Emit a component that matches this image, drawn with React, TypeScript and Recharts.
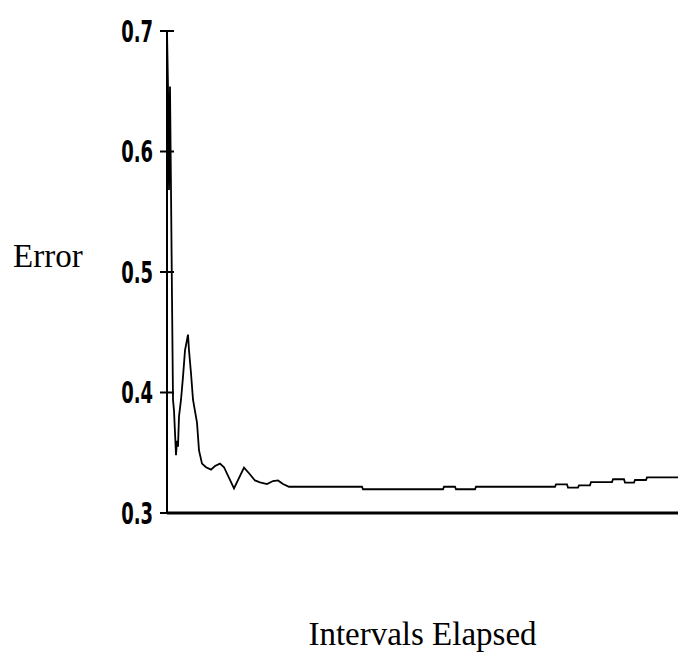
import { LineChart, Line, XAxis, YAxis, Label } from "recharts"

// interval index (roughly one per pixel column) and error at that interval
const intervals = [
  0, 1, 2, 3, 4, 5, 6, 7, 9, 10, 11, 12, 14, 16, 18, 21, 22, 24, 26, 30,
  32, 35, 39, 44, 48, 53, 57, 67, 77, 82, 88, 93, 100, 106, 111, 116, 122,
  195, 196, 276, 277, 288, 289, 308, 309, 388, 389, 400, 401, 411, 412,
  423, 424, 445, 446, 457, 458, 467, 468, 479, 480, 511,
]
const errors = [
  0.7, 0.654, 0.568, 0.654, 0.568, 0.479, 0.394, 0.385, 0.348, 0.36, 0.355,
  0.38, 0.394, 0.413, 0.435, 0.448, 0.435, 0.416, 0.394, 0.375, 0.352, 0.341,
  0.338, 0.336, 0.339, 0.341, 0.338, 0.3205, 0.3376, 0.333, 0.327, 0.3255,
  0.324, 0.3265, 0.327, 0.324, 0.3218, 0.3218, 0.3197, 0.3197, 0.3218,
  0.3218, 0.3197, 0.3197, 0.3218, 0.3218, 0.3238, 0.3238, 0.321, 0.321,
  0.323, 0.323, 0.3257, 0.3257, 0.328, 0.328, 0.3252, 0.3252, 0.3274,
  0.3274, 0.3296, 0.3296,
]
const yTicks = [0.3, 0.4, 0.5, 0.6, 0.7]

const data = intervals.map((t, i) => ({ t, err: errors[i] }))

const tickFont = '"DejaVu Sans", sans-serif'
const titleFont = '"Liberation Serif", "DejaVu Serif", serif'

function YTick({ x, y, payload }: any) {
  // tick crosses the axis on both sides; labels are a narrow bold face, so squeeze them
  return (
    <g>
      <line x1={x + 7} x2={x + 21} y1={y} y2={y} stroke="#000" strokeWidth={2} />
      <g transform={`translate(${x},${y}) scale(0.6,1)`}>
        <text
          x={0}
          y={0}
          dy="0.36em"
          textAnchor="end"
          fontFamily={tickFont}
          fontWeight="bold"
          fontSize={30}
          fill="#000"
        >
          {payload.value.toFixed(1)}
        </text>
      </g>
    </g>
  )
}

export default function App() {
  return (
    <div style={{ position: "absolute", top: 0, left: 0, background: "#fff" }}>
      <LineChart
        width={678}
        height={654}
        data={data}
        margin={{ top: 31, right: 0, bottom: 0, left: 0 }}
      >
        <XAxis
          dataKey="t"
          type="number"
          domain={[0, 511]}
          tick={false}
          tickLine={false}
          height={141}
          axisLine={{ stroke: "#000", strokeWidth: 3 }}
        >
          <Label
            content={({ viewBox }: any) => (
              <text
                x={viewBox.x + viewBox.width / 2}
                y={viewBox.y + viewBox.height - 9}
                textAnchor="middle"
                fontFamily={titleFont}
                fontSize={33}
                fill="#000"
              >
                Intervals Elapsed
              </text>
            )}
          />
        </XAxis>
        <YAxis
          type="number"
          domain={[0.3, 0.7]}
          ticks={yTicks}
          width={167}
          tickSize={7}
          tickMargin={7}
          tickLine={false}
          tick={<YTick />}
          axisLine={{ stroke: "#000", strokeWidth: 2 }}
          allowDataOverflow
        >
          <Label
            content={({ viewBox }: any) => (
              <text
                x={viewBox.x + 13}
                y={viewBox.y + viewBox.height / 2 - 5}
                fontFamily={titleFont}
                fontSize={33}
                fill="#000"
              >
                Error
              </text>
            )}
          />
        </YAxis>
        <Line
          dataKey="err"
          type="linear"
          stroke="#000"
          strokeWidth={1.8}
          dot={false}
          isAnimationActive={false}
        />
      </LineChart>
    </div>
  )
}
